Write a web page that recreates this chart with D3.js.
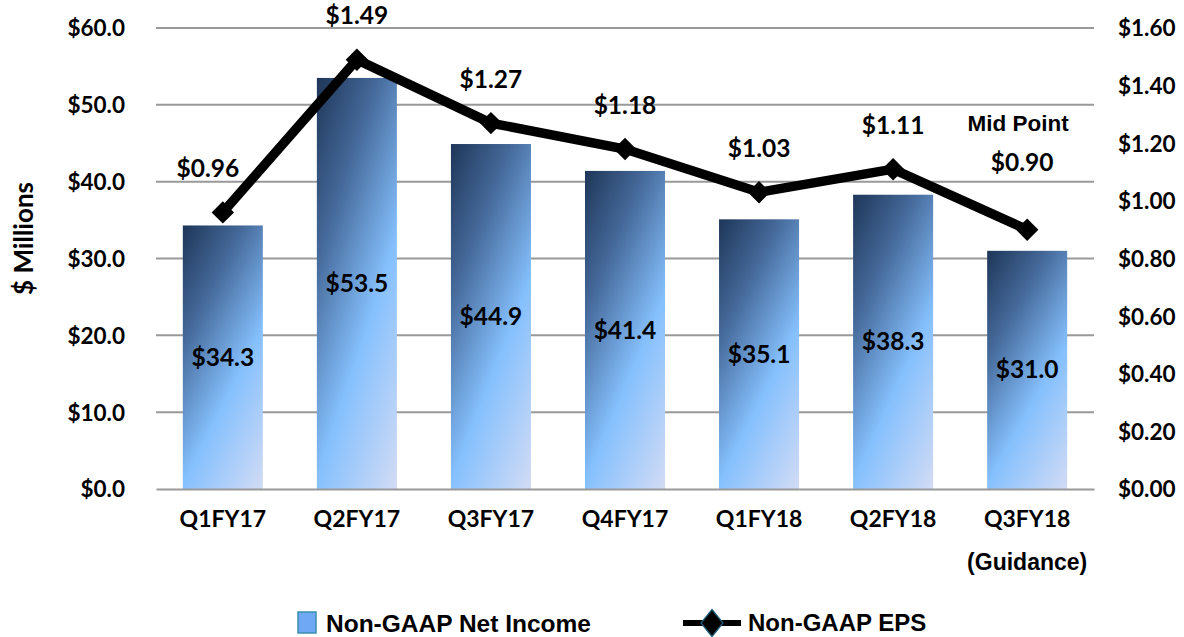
<!DOCTYPE html>
<html lang="en">
<head>
<meta charset="UTF-8">
<title>Non-GAAP Net Income and EPS</title>
<script src="https://cdn.jsdelivr.net/npm/d3@7"></script>
<style>
  body { margin: 0; background: #fff; }
  text { font-family: Lato, "Open Sans", sans-serif; font-weight: bold; fill: #000; }
  .arial { font-family: "Liberation Sans", Arial, sans-serif; }
</style>
</head>
<body>
<div id="chart"></div>
<script>
// quarters and values
var quarters = ["Q1FY17", "Q2FY17", "Q3FY17", "Q4FY17", "Q1FY18", "Q2FY18", "Q3FY18"];
var netIncome = [34.3, 53.5, 44.9, 41.4, 35.1, 38.3, 31.0];
var eps = [0.96, 1.49, 1.27, 1.18, 1.03, 1.11, 0.90];
var leftTicks = [0, 10, 20, 30, 40, 50, 60];
var rightTicks = [0, 0.2, 0.4, 0.6, 0.8, 1.0, 1.2, 1.4, 1.6];

var W = 1184, H = 637;
var plot = {left: 156, right: 1094, top: 28, bottom: 489};

var svg = d3.select("#chart").append("svg")
  .attr("width", W).attr("height", H);

var defs = svg.append("defs");
var grad = defs.append("linearGradient")
  .attr("id", "barGrad")
  .attr("x1", "0").attr("y1", "0").attr("x2", "0.78").attr("y2", "1.32");
grad.append("stop").attr("offset", "0%").attr("stop-color", "#1e3658");
grad.append("stop").attr("offset", "25%").attr("stop-color", "#45699a");
grad.append("stop").attr("offset", "55%").attr("stop-color", "#85c0fd");
grad.append("stop").attr("offset", "100%").attr("stop-color", "#ebe4f2");

var x = d3.scaleBand()
  .domain(quarters)
  .range([plot.left, plot.right])
  .paddingInner(0.403)
  .paddingOuter(0.2);

var y = d3.scaleLinear().domain([0, 60]).range([plot.bottom, plot.top]);
var y2 = d3.scaleLinear().domain([0, 1.6]).range([plot.bottom, plot.top]);
var cx = i => x(quarters[i]) + x.bandwidth() / 2;

// gridlines
svg.append("g")
  .selectAll("line")
  .data(leftTicks.slice(1))
  .join("line")
  .attr("x1", plot.left).attr("x2", plot.right)
  .attr("y1", d => y(d)).attr("y2", d => y(d))
  .attr("stroke", "#999").attr("stroke-width", 2);

// left axis
var yAxis = svg.append("g")
  .attr("transform", "translate(" + plot.left + ",0)")
  .call(d3.axisLeft(y).tickValues(leftTicks).tickFormat(d => "$" + d3.format(".1f")(d))
    .tickSize(0).tickPadding(31));
yAxis.select(".domain").remove();
yAxis.selectAll(".tick text").attr("font-size", 22.5).attr("dy", "0.35em");

// right axis
var y2Axis = svg.append("g")
  .attr("transform", "translate(" + plot.right + ",0)")
  .call(d3.axisRight(y2).tickValues(rightTicks).tickFormat(d => "$" + d3.format(".2f")(d))
    .tickSize(0).tickPadding(24));
y2Axis.select(".domain").remove();
y2Axis.selectAll(".tick text").attr("font-size", 22.5).attr("dy", "0.35em");

// y title
svg.append("text")
  .attr("transform", "translate(24," + ((plot.top + plot.bottom) / 2 - 20) + ") rotate(-90)")
  .attr("text-anchor", "middle")
  .attr("dy", "0.35em")
  .attr("font-size", 26)
  .text("$ Millions");

// bars
svg.append("g")
  .selectAll("rect")
  .data(netIncome)
  .join("rect")
  .attr("x", (d, i) => x(quarters[i]))
  .attr("y", d => y(d))
  .attr("width", x.bandwidth())
  .attr("height", d => y(0) - y(d))
  .attr("fill", "url(#barGrad)");

// x axis
var xAxis = svg.append("g")
  .attr("transform", "translate(0," + plot.bottom + ")")
  .call(d3.axisBottom(x).tickSize(0).tickPadding(22));
xAxis.select(".domain").attr("stroke", "#999").attr("stroke-width", 2);
xAxis.selectAll(".tick text").attr("font-size", 23);

svg.append("text")
  .attr("class", "arial")
  .attr("x", cx(6))
  .attr("y", 570)
  .attr("text-anchor", "middle")
  .attr("font-size", 23)
  .text("(Guidance)");

// bar value labels
svg.append("g")
  .selectAll("text")
  .data(netIncome)
  .join("text")
  .attr("x", (d, i) => cx(i))
  .attr("y", d => (y(d) + y(0)) / 2)
  .attr("dy", "0.35em")
  .attr("text-anchor", "middle")
  .attr("font-size", 24.5)
  .text(d => "$" + d3.format(".1f")(d));

// eps line
var line = d3.line()
  .x((d, i) => cx(i))
  .y(d => y2(d));

svg.append("path")
  .datum(eps)
  .attr("fill", "none")
  .attr("stroke", "#000")
  .attr("stroke-width", 9.5)
  .attr("stroke-linejoin", "miter")
  .attr("d", line);

var diamond = d3.symbol().type(d3.symbolDiamond2).size(320);
svg.append("g")
  .selectAll("path")
  .data(eps)
  .join("path")
  .attr("transform", (d, i) => "translate(" + cx(i) + "," + y2(d) + ")")
  .attr("d", diamond)
  .attr("fill", "#000");

// eps labels: Excel nudged the first and the guidance label
svg.append("g")
  .selectAll("text")
  .data(eps)
  .join("text")
  .attr("x", (d, i) => cx(i) + (i === 0 ? -15 : i === 6 ? -5 : 0))
  .attr("y", (d, i) => y2(d) - (i === 6 ? 67 : 44))
  .attr("dy", "0.35em")
  .attr("text-anchor", "middle")
  .attr("font-size", 24.5)
  .text(d => "$" + d3.format(".2f")(d));

svg.append("text")
  .attr("class", "arial")
  .attr("x", cx(6) - 9)
  .attr("y", y2(eps[6]) - 107)
  .attr("dy", "0.35em")
  .attr("text-anchor", "middle")
  .attr("font-size", 22.5)
  .text("Mid Point");

// legend
var legend = svg.append("g");
legend.append("rect")
  .attr("x", 298).attr("y", 612).attr("width", 18).attr("height", 21)
  .attr("fill", "#6fa8f5").attr("stroke", "#3a8fb0").attr("stroke-width", 1.5);
legend.append("text")
  .attr("class", "arial")
  .attr("x", 326).attr("y", 623).attr("dy", "0.35em")
  .attr("font-size", 24.5)
  .text("Non-GAAP Net Income");

legend.append("line")
  .attr("x1", 683).attr("x2", 741).attr("y1", 623).attr("y2", 623)
  .attr("stroke", "#000").attr("stroke-width", 6);
legend.append("path")
  .attr("transform", "translate(712,623) scale(0.85,1.05)")
  .attr("d", d3.symbol().type(d3.symbolDiamond2).size(420))
  .attr("fill", "#000").attr("stroke", "#1f5c7a").attr("stroke-width", 1.5);
legend.append("text")
  .attr("class", "arial")
  .attr("x", 748).attr("y", 623).attr("dy", "0.35em")
  .attr("font-size", 24)
  .text("Non-GAAP EPS");
</script>
</body>
</html>
